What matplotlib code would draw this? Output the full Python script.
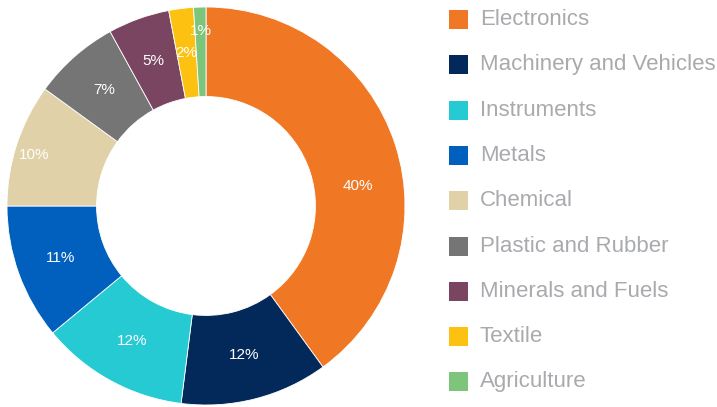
import matplotlib
matplotlib.use("Agg")
import matplotlib.pyplot as plt
import numpy as np
from matplotlib.patches import Rectangle

plt.rcParams['font.family'] = ['Liberation Sans', 'DejaVu Sans']

sectors = ["Electronics", "Machinery and Vehicles", "Instruments", "Metals",
           "Chemical", "Plastic and Rubber", "Minerals and Fuels", "Textile",
           "Agriculture"]
shares = [40, 12, 12, 11, 10, 7, 5, 2, 1]
colors = ["#F07825", "#02295A", "#25CAD3", "#0160BD", "#E0D1A9",
          "#757575", "#7A4561", "#FDC111", "#7DC57A"]

W, H = 717, 407
fig = plt.figure(figsize=(W / 100, H / 100), dpi=100)

# donut, centred at (206, 206) px with radius ~199 px
cx, cy, r = 206, 206, 199
ax = fig.add_axes([(cx - r) / W, (H - cy - r) / H, 2 * r / W, 2 * r / H])
wedges, texts = ax.pie(shares, colors=colors, startangle=90, counterclock=False,
                       radius=1.0,
                       wedgeprops=dict(width=0.45, edgecolor="white", linewidth=0.6),
                       labels=[f"{v}%" for v in shares], labeldistance=0.775,
                       textprops=dict(color="white", fontsize=11,
                                      family=['Liberation Sans Narrow', 'Liberation Sans'],
                                      ha="center", va="center"))

# a few labels sit off the wedge's middle: (angle shift in degrees, radius)
nudges = {0: (-10.5, 0.77), 4: (1.5, 0.90), 8: (0.0, 0.88)}
for i, (dang, rad) in nudges.items():
    w = wedges[i]
    ang = np.deg2rad((w.theta1 + w.theta2) / 2 + dang)
    texts[i].set_position((rad * np.cos(ang), rad * np.sin(ang)))

ax.set_xlim(-1, 1)
ax.set_ylim(-1, 1)
ax.set_aspect("equal")
ax.axis("off")

# legend column on the right
y0, step = 19.5, 45.3
for i, (name, col) in enumerate(zip(sectors, colors)):
    yc = y0 + i * step
    fig.patches.append(Rectangle((449 / W, (H - yc - 9.5) / H), 19 / W, 19 / H,
                                 transform=fig.transFigure, facecolor=col,
                                 edgecolor="none"))
    fig.text(480 / W, (H - yc) / H, name, color="#A8AAAD", fontsize=16,
             ha="left", va="center")

fig.savefig("out.png", dpi=100)
